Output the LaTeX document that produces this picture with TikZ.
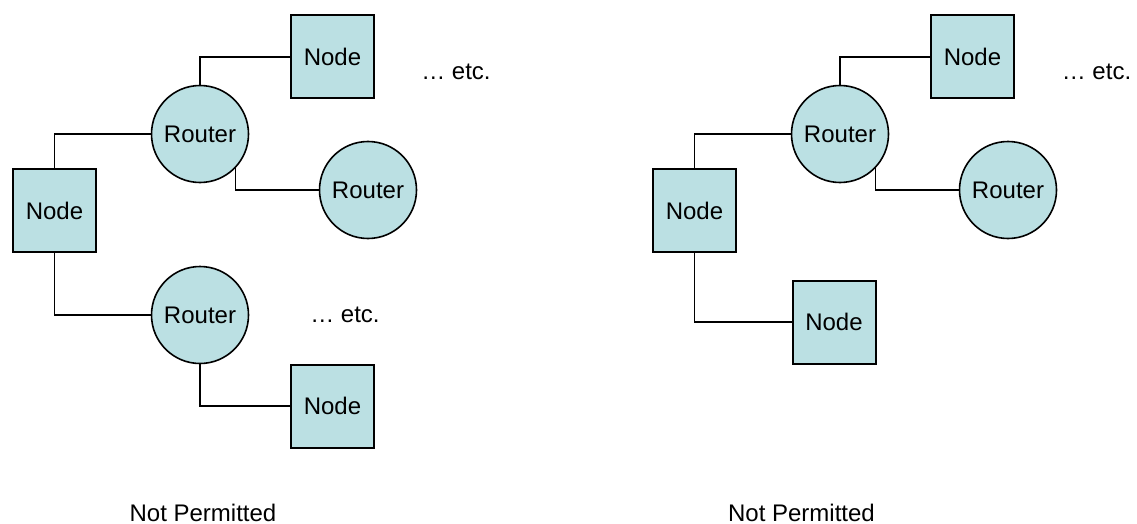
\documentclass[tikz,border=0pt]{standalone}
\usepackage{fontspec}
\setmainfont{Liberation Sans}
\definecolor{nodefill}{RGB}{187,224,227}
\begin{document}
\begin{tikzpicture}[x=1pt,y=-1pt,
  every node/.style={font=\fontsize{24}{28}\selectfont, text=black},
  nodebox/.style={draw=black, line width=2pt, fill=nodefill, minimum width=83pt, minimum height=83pt, inner sep=0pt},
  routercirc/.style={circle, draw=black, line width=1.6pt, fill=nodefill, minimum size=97pt, inner sep=0pt},
  link/.style={draw=black, line width=1.5pt},
  plain/.style={inner sep=0pt}]
\useasboundingbox (0,0) rectangle (1137,524);
% ---- left diagram ----
\node[nodebox] (lnl) at (54.5,210.5) {Node};
\node[routercirc] (lrt) at (200,134) {Router};
\node[nodebox] (lnt) at (332.5,57) {Node};
\node[routercirc] (lrr) at (368,190) {Router};
\node[routercirc] (lrb) at (200,315) {Router};
\node[nodebox] (lnb) at (332.5,406) {Node};
\node[plain] (letc1) at (456,72) {… etc.};
\node[plain] (letc2) at (345,315) {… etc.};
\node[plain] (lcap) at (203,512.5) {Not Permitted};
\draw[link] (lnl.north) |- (lrt.west);
\draw[link] (lrt.north) |- (lnt.west);
\draw[link] (lrt.-44) |- (lrr.west);
\draw[link] (lnl.south) |- (lrb.west);
\draw[link] (lrb.south) |- (lnb.west);
% ---- right diagram ----
\node[nodebox] (rnl) at (694.5,210.5) {Node};
\node[routercirc] (rrt) at (840,134) {Router};
\node[nodebox] (rnt) at (972.5,57) {Node};
\node[routercirc] (rrr) at (1008,190) {Router};
\node[nodebox] (rnb) at (834,322) {Node};
\node[plain] (retc1) at (1096.5,72) {… etc.};
\node[plain] (rcap) at (801.5,512.5) {Not Permitted};
\draw[link] (rnl.north) |- (rrt.west);
\draw[link] (rrt.north) |- (rnt.west);
\draw[link] (rrt.-44) |- (rrr.west);
\draw[link] (rnl.south) |- (rnb.west);
\end{tikzpicture}
\end{document}
